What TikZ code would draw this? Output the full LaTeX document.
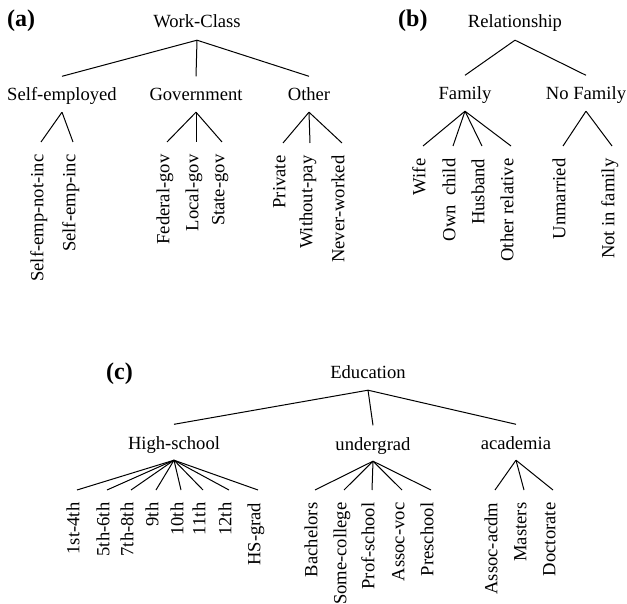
\documentclass[tikz,border=0pt]{standalone}
\usepackage{fontspec}
\setmainfont{Liberation Serif}
\begin{document}
\begin{tikzpicture}[x=1pt,y=-1pt,
  every node/.style={font=\fontsize{18.6}{22}\selectfont},
  root/.style={anchor=base,inner sep=0pt,text depth=12pt},
  mid/.style={anchor=base,inner sep=0pt,text height=24.5pt,text depth=11pt},
  leaf/.style={rotate=90,anchor=mid east,inner ysep=0pt,inner xsep=12.5pt},
  panel/.style={anchor=base west,inner sep=0pt,font=\fontsize{24}{28}\selectfont\bfseries},
  branch/.style={line width=1pt}]
\useasboundingbox (0,0) rectangle (627,604);

% ---------- (a) Work-Class ----------
\node[panel] (la) at (7,27) {(a)};
\node[root] (wc) at (197,28) {Work-Class};
\node[mid] (se) at (62,101) {Self-employed};
\node[mid] (gov) at (196,101) {Government};
\node[mid] (oth) at (309,101) {Other};
\node[leaf] (senot) at (41,142) {Self-emp-not-inc};
\node[leaf] (seinc) at (73,142) {Self-emp-inc};
\node[leaf] (fed) at (167,142) {Federal-gov};
\node[leaf] (loc) at (196,142) {Local-gov};
\node[leaf] (sta) at (222,142) {State-gov};
\node[leaf] (pri) at (283,143) {Private};
\node[leaf] (wop) at (310,143) {Without-pay};
\node[leaf] (nev) at (342,143) {Never-worked};

% ---------- (b) Relationship ----------
\node[panel] (lb) at (398,27) {(b)};
\node[root] (rel) at (515,28) {Relationship};
\node[mid] (fam) at (465,100) {Family};
\node[mid] (nof) at (586,100) {No Family};
\node[leaf] (wife) at (423,146) {Wife};
\node[leaf] (own) at (453,146) {Own\ \ child};
\node[leaf] (hus) at (482,146) {Husband};
\node[leaf] (orel) at (511,146) {Other relative};
\node[leaf] (unm) at (563,146) {Unmarried};
\node[leaf] (nif) at (612,146) {Not in family};

% ---------- (c) Education ----------
\node[panel] (lc) at (106,379) {(c)};
\node[root] (edu) at (368,378) {Education};
\node[mid] (hs) at (174,449) {High-school};
\node[mid] (ug) at (373,450) {undergrad};
\node[mid] (ac) at (516,449) {academia};
\node[leaf] (g1) at (77,490) {1st-4th};
\node[leaf] (g5) at (107,490) {5th-6th};
\node[leaf] (g7) at (131,490) {7th-8th};
\node[leaf] (g9) at (156,490) {9th};
\node[leaf] (g10) at (181,490) {10th};
\node[leaf] (g11) at (203,490) {11th};
\node[leaf] (g12) at (229,490) {12th};
\node[leaf] (hsg) at (258,490) {HS-grad};
\node[leaf] (bac) at (315,490) {Bachelors};
\node[leaf] (sco) at (344,490) {Some-college};
\node[leaf] (pro) at (372,490) {Prof-school};
\node[leaf] (avo) at (402,490) {Assoc-voc};
\node[leaf] (pre) at (431,490) {Preschool};
\node[leaf] (aac) at (495,490) {Assoc-acdm};
\node[leaf] (mas) at (524,490) {Masters};
\node[leaf] (doc) at (553,490) {Doctorate};

% ---------- branches ----------
\foreach \p/\c in {wc/se, wc/gov, wc/oth, rel/fam, rel/nof, edu/hs, edu/ug, edu/ac}
  \draw[branch] (\p.south) -- (\c.north);
\foreach \p/\c in {se/senot, se/seinc, gov/fed, gov/loc, gov/sta,
                   oth/pri, oth/wop, oth/nev,
                   fam/wife, fam/own, fam/hus, fam/orel, nof/unm, nof/nif,
                   hs/g1, hs/g5, hs/g7, hs/g9, hs/g10, hs/g11, hs/g12, hs/hsg,
                   ug/bac, ug/sco, ug/pro, ug/avo, ug/pre,
                   ac/aac, ac/mas, ac/doc}
  \draw[branch] (\p.south) -- (\c.mid east);
\end{tikzpicture}
\end{document}
